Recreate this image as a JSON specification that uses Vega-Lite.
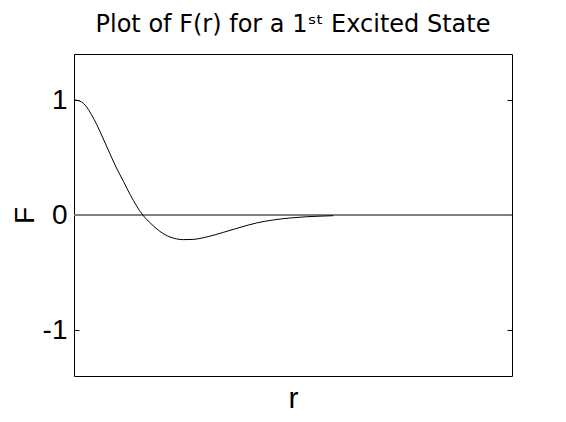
{
  "$schema": "https://vega.github.io/schema/vega-lite/v6.json",
  "width": 438,
  "height": 322,
  "autosize": "none",
  "padding": {"left": 74, "top": 54, "right": 54, "bottom": 46},
  "background": "white",
  "config": {
    "view": {"stroke": "black", "strokeWidth": 1},
    "axis": {"grid": false, "domain": false}
  },
  "title": {
    "text": "Plot of F(r) for a 1ˢᵗ Excited State",
    "font": "DejaVu Sans",
    "fontSize": 24,
    "fontWeight": "normal",
    "color": "black",
    "anchor": "middle",
    "baseline": "alphabetic",
    "offset": -2
  },
  "data": {
    "values": [
      {"r": 0.0, "F": 1.0},
      {"r": 0.1, "F": 0.995},
      {"r": 0.25, "F": 0.957},
      {"r": 0.4, "F": 0.872},
      {"r": 0.52, "F": 0.786},
      {"r": 0.67, "F": 0.661},
      {"r": 0.82, "F": 0.533},
      {"r": 0.97, "F": 0.409},
      {"r": 1.13, "F": 0.292},
      {"r": 1.28, "F": 0.179},
      {"r": 1.43, "F": 0.078},
      {"r": 1.57, "F": 0.0},
      {"r": 1.74, "F": -0.069},
      {"r": 1.96, "F": -0.142},
      {"r": 2.19, "F": -0.191},
      {"r": 2.5, "F": -0.214},
      {"r": 2.72, "F": -0.212},
      {"r": 3.03, "F": -0.191},
      {"r": 3.41, "F": -0.151},
      {"r": 3.79, "F": -0.108},
      {"r": 4.17, "F": -0.069},
      {"r": 4.55, "F": -0.043},
      {"r": 4.93, "F": -0.026},
      {"r": 5.31, "F": -0.015},
      {"r": 5.69, "F": -0.009},
      {"r": 5.92, "F": -0.006}
    ]
  },
  "resolve": {"axis": {"y": "independent"}},
  "layer": [
    {
      "mark": {"type": "rule", "color": "#808080", "strokeWidth": 1},
      "encoding": {
        "y": {
          "datum": 0,
          "type": "quantitative",
          "scale": {"domain": [-1.4, 1.4], "nice": false, "zero": false},
          "axis": {
            "orient": "right",
            "values": [-1, 0, 1],
            "labels": false,
            "tickSize": -5,
            "tickColor": "black",
            "tickWidth": 1,
            "title": null
          }
        }
      }
    },
    {
      "mark": {"type": "line", "color": "black", "strokeWidth": 1, "interpolate": "monotone"},
      "encoding": {
        "x": {
          "field": "r",
          "type": "quantitative",
          "scale": {"domain": [0, 10], "nice": false, "zero": false},
          "axis": {
            "ticks": false,
            "labels": false,
            "title": "r",
            "titleFont": "Liberation Sans",
            "titleFontSize": 30,
            "titleFontWeight": "normal",
            "titleColor": "black",
            "titleBaseline": "alphabetic",
            "titleX": 219,
            "titleY": 31
          }
        },
        "y": {
          "field": "F",
          "type": "quantitative",
          "scale": {"domain": [-1.4, 1.4], "nice": false, "zero": false},
          "axis": {
            "orient": "left",
            "values": [-1, 0, 1],
            "labelExpr": "toString(datum.value)",
            "tickSize": -5,
            "tickColor": "black",
            "tickWidth": 1,
            "labelFont": "Liberation Sans",
            "labelFontSize": 28,
            "labelColor": "black",
            "labelPadding": 12,
            "title": "F",
            "titleFont": "Liberation Sans",
            "titleFontSize": 28,
            "titleFontWeight": "normal",
            "titleColor": "black",
            "titleAngle": 270,
            "titleBaseline": "alphabetic",
            "titleAlign": "center",
            "titleX": -41,
            "titleY": 161
          }
        }
      }
    }
  ]
}
